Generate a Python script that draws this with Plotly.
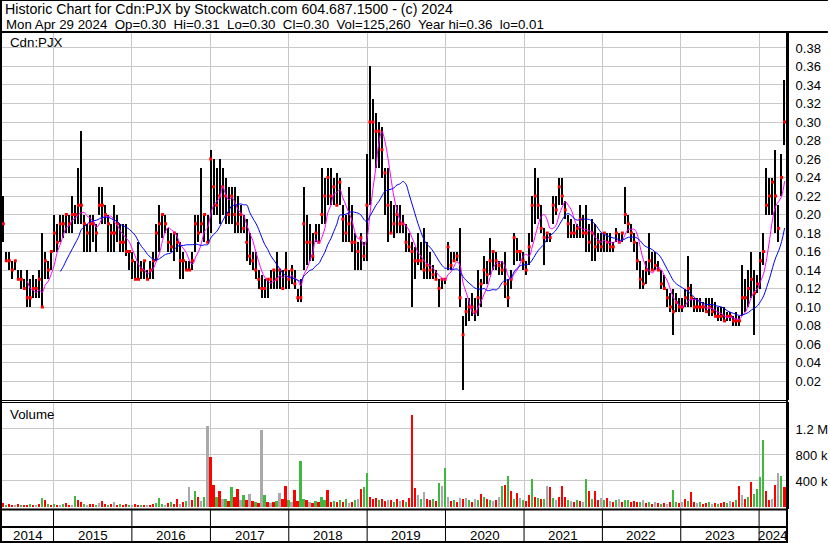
import pandas as pd
import plotly.graph_objects as go

# ---------------- data (prices in cents, volume in thousands) ----------------
bar_start = "2014-05-12"
n_bars = 261

high_c = [22,16,16,15,15,14,14,13,14,13,
          13.5,13,14,18,16,15,16,20,19,20,
          20,20,20,22,21,25,29,20,19,20,
          20,19,23,23,21,20,19,21,20,19,
          19,19,16,16,15,17,15,15,14,15,
          16,19,21,20,20,18.5,18,18,18,17,
          16,15,15,16,20,20,25,20,20,27,
          26,25,26,25,24,23,23,23,22,21,
          20,19.5,18,16,16,14,13.5,13,13,14,
          14,16,14,14,16,14,14.5,14,12,13,
          23,20,19,18,19,19,25,24,25,25,
          24,24.5,24,21,20,23,21,18,17,18,
          17,26.5,36,32.5,31,30,29.5,25,25,21.5,
          21,21,21,20,19,18,17,16.5,18,17,
          18.5,17,16,14.5,14,13,13,13,17,16,
          16,16,18.5,9,11,11,11.5,11,14,13,
          15.5,15,17.5,16,16,15,15,16,13,14,
          18,17.5,16,16,15,18,22,25,24,21,
          18.5,18,18,22,22,24,24,21.5,20,19.5,
          19,19,21,20,21,19,19.5,19,18,18,
          18,18,18,17,18.5,18,18,23,20,19,
          18,17,15,14,15,18,16,16,15,14,
          13.5,12,11.5,12,11.5,11,11,12,15.5,12.5,
          11,11,11,10.5,11,11,11,10.5,10,10,
          10,9.5,9.5,9,9.5,9,14.5,13,14,16,
          14,13.5,16,18,25,24,24,27,21,26.5,
          34.5]

low_c = [17,15,14,13,14,13,12,12,10,10,
         11,11,11,10,13,13,14,16,16,17,
         17.5,18,18,18,19,19,19,16,16,16,
         17,16,20,19,19,16,16,16,17,16,
         16,15.5,14,13,13,13,13,13,13,13,
         13,15,16,17.5,18,16,16,15,16,13,
         13,14,14,14,16,17,18,17,17,18,
         20,20,19,20,19,19,19,18,18,18,
         18,15,14.5,14,13,12,11,11,11,12,
         12,12,12,12,12,12,12.5,12,10.5,10.5,
         14,14.5,15,15,17,17,19,19,21,21,
         21,21,21,17,17,17,16,14,14,14,
         15,15,21,26,25,25,24,20,17,18,
         17.5,18,18,18,16,16,10,13,14.5,14,
         13,13,13,13,13,10,12,12.5,14,14,
         15,15,10,1,8,8.5,9,8.5,9,10,
         12.5,12.5,13.5,14,14,13.5,13.5,11,10,12,
         14.5,15,15,14,13.5,14.5,17,19,19.5,18,
         14.5,17,17,19,20,21,21,19.5,17.5,17.5,
         17.5,17.5,17.5,17.5,16,16,15,15,16,16,
         16,16,16,16,17,17,17,19,18,17,
         16,14,12,12,12.5,13.5,14,14,14,12,
         12,10,9.5,7,9.5,9.5,9.5,10,10,10,
         9.5,9.5,9.5,9.5,9.5,9,9,9,8.5,8.5,
         8.5,8.5,8.5,8,8,8,9,9.5,10,11,
         7,11.5,12,14.5,20,20,20,18,17,22,
         27.5]

close_c = [19,15,15,14,15,13,13,12,11,11,
           12,12,13,10,15,14,16,18,17,19,
           19,20,19,20,20,21,21,19,18,19,
           19,18,21,21,20,19,18,18,19,17,
           17,16,16,15,13,13,14,15,13,14,
           15,18,19,20,19,17,16.5,18,17,15,
           15,14,14,15,19,18,19,20,17,26,
           23,21,22,23,22,20,22,20,19,20,
           18.5,17,15.5,15,14,13,12,12,13,13,
           14,13,14,12,14,13,14,12.5,11,11,
           19,17,17,15.5,18,17,20,22,24,22,
           23,21,23.5,19.5,18,19,17,17,16,17.5,
           15.5,21,30,30,29,29,27,24.5,21,18,
           19,20,19,19,17,16.5,16,15,15,15,
           14,14.5,14,13.5,13,12,13,13,16.5,14.5,
           15,15.5,11,7,9.5,10,10,9.5,11,12.5,
           14,13.5,15,16,15,14.5,14,12.5,11,13,
           17.5,16,16,15,14,16.5,21,22,21,18.5,
           17.5,18,17.5,21,20.5,23,22,20.5,19,18,
           18,18.5,19.5,18,18,17,18,16.5,17,16.5,
           18,17,16.5,16.5,18,17,18,20,19,18,
           17,15,13,12.5,14,15,14,14.5,14,12.5,
           12,11,10,9.5,10.5,10,10,11,12,11,
           10,10,10,10,9.5,10,9.5,9,9,9,
           8.5,9,9,8.5,8.5,8.5,11,11,12,13,
           11.5,12.5,15,16,21,22,23.5,22,18.5,24,
           30]

volume_k = [60,30,40,20,30,40,20,30,25,40,
            30,20,40,140,100,40,30,50,30,20,
            40,60,30,20,165,100,80,40,30,50,
            40,30,60,90,40,30,50,70,30,40,
            30,50,20,30,40,20,30,20,25,30,
            40,60,140,50,30,60,80,40,120,50,
            70,90,300,110,240,150,90,150,1240,770,
            340,160,240,120,130,90,300,160,270,100,
            180,110,200,90,80,60,1180,180,70,60,
            80,90,215,120,330,100,80,260,90,710,
            130,110,80,60,90,70,150,100,260,80,
            90,70,100,80,130,60,80,100,130,280,
            310,530,160,130,140,100,120,90,110,100,
            80,130,90,110,80,140,1410,290,180,120,
            225,130,100,120,90,370,320,600,150,90,
            110,80,140,120,140,100,80,120,100,200,
            160,120,100,90,110,150,320,340,470,250,
            120,220,140,110,90,180,430,160,140,120,
            130,320,300,140,110,150,330,150,100,90,
            80,110,90,70,430,250,130,240,100,140,
            110,140,90,80,100,120,70,100,110,80,
            90,70,80,110,60,80,50,70,60,50,
            60,50,70,260,80,60,70,120,90,225,
            70,60,80,50,60,70,40,60,50,60,
            70,60,90,80,110,330,180,120,160,380,
            200,280,460,1030,250,110,120,340,530,470,
            300]

# volume bar direction: g = up day, r = down day, n = unchanged
vol_dir = list("".join([
    "rgrrnrgrrg", "rnrgrgrgrn", "grrngrrgnr", "rgnrrgrnrg", "rrgnrrgrnr",
    "rgggnrgrrn", "rgnrgrngnr", "rgrngrgrrn", "grnrgrngrn", "rgnrrgnrrg",
    "grnrgrggrr", "grgrgnrgnr", "ggrrrgrrnr", "grnrgrrrng", "nrrgrgngnr",
    "grnrngrngr", "grgnrngrgr", "grngrrgrgr", "gnrgnrrrgn", "rgrngrgrrn",
    "grnrgnrggr", "rrgnrgrnrg", "rnrggrnrgr", "rngrrgnrgr", "rgnrgrnrgr",
    "ggggrrnrng", "r"]))

price_ticks = [0.02, 0.04, 0.06, 0.08, 0.10, 0.12, 0.14, 0.16, 0.18, 0.20,
               0.22, 0.24, 0.26, 0.28, 0.30, 0.32, 0.34, 0.36, 0.38]
vol_tickvals = [400000, 800000, 1200000]
vol_ticktext = ["400 k", "800 k", "1.2 M"]
years = ["2014", "2015", "2016", "2017", "2018", "2019", "2020", "2021", "2022", "2023", "2024"]

header1 = "Historic Chart for Cdn:PJX by Stockwatch.com 604.687.1500 - (c) 2024"
header2 = ("Mon Apr 29 2024\u00a0 Op=0.30\u00a0 Hi=0.31\u00a0 Lo=0.30\u00a0 "
           "Cl=0.30\u00a0 Vol=125,260\u00a0 Year hi=0.36\u00a0 lo=0.01")

# ---------------- derived ----------------
dates = pd.date_range(bar_start, periods=n_bars, freq="14D")
df = pd.DataFrame({
    "date": dates,
    "high": [v / 100 for v in high_c],
    "low": [v / 100 for v in low_c],
    "close": [v / 100 for v in close_c],
    "vol": [v * 1000 for v in volume_k],
    "dir": vol_dir,
})
ma_fast = df["close"].rolling(5).mean()
ma_slow = df["close"].rolling(13).mean()
ma_fast[df.index < 8] = None
ma_slow[df.index < 19] = None

color_map = {"g": "#3fb83f", "r": "#ff0000", "n": "#a9a9a9"}
vol_colors = [color_map[d] for d in df["dir"]]

FONT = "Liberation Sans, Arial, sans-serif"
GRID = "#c8c8c8"
DAY_MS = 86400000
W, H = 830, 543
ML, MR, MT, MB = 2, 41, 33, 34
PW, PH = W - ML - MR, H - MT - MB


def py(pix):  # pixel y -> paper y
    return (H - MB - pix) / PH


def px(pix):  # pixel x -> paper x
    return (pix - ML) / PW


fig = go.Figure()
fig.add_trace(go.Bar(x=df["date"], y=df["high"] - df["low"], base=df["low"],
                     marker=dict(color="black", line=dict(width=0)),
                     width=6 * DAY_MS, xaxis="x", yaxis="y", hoverinfo="skip"))
fig.add_trace(go.Scatter(x=df["date"], y=df["close"], mode="markers",
                         marker=dict(symbol="square", size=3, color="#ff0000"),
                         xaxis="x", yaxis="y", hoverinfo="skip"))
fig.add_trace(go.Scatter(x=df["date"], y=ma_fast, mode="lines",
                         line=dict(color="#ff00ff", width=1, shape="spline"),
                         xaxis="x", yaxis="y", hoverinfo="skip"))
fig.add_trace(go.Scatter(x=df["date"], y=ma_slow, mode="lines",
                         line=dict(color="#0000ff", width=1, shape="spline"),
                         xaxis="x", yaxis="y", hoverinfo="skip"))
fig.add_trace(go.Bar(x=df["date"], y=df["vol"], marker=dict(color=vol_colors, line=dict(width=0)),
                     width=8 * DAY_MS, xaxis="x2", yaxis="y2", hoverinfo="skip"))

xcommon = dict(type="date", range=["2014-05-06", "2024-05-10"], showgrid=True, gridcolor=GRID,
               gridwidth=1, dtick="M12", tick0="2015-01-01", showticklabels=False, ticks="",
               zeroline=False, showline=False)

fig.update_layout(
    width=W, height=H, margin=dict(l=ML, r=MR, t=MT, b=MB, pad=0),
    paper_bgcolor="white", plot_bgcolor="white", showlegend=False, hovermode=False,
    font=dict(family=FONT, size=13, color="black"),
    xaxis=dict(domain=[0, 1], anchor="y", **xcommon),
    xaxis2=dict(domain=[0, 1], anchor="y2", matches="x", **xcommon),
    yaxis=dict(domain=[py(400), 1], range=[-0.0005, 0.3962], side="right",
               tickvals=price_ticks, ticktext=[f"{v:.2f}" for v in price_ticks],
               showgrid=True, gridcolor=GRID, zeroline=False, showline=True,
               linecolor="black", linewidth=2, ticks="", ticklabelstandoff=4,
               tickfont=dict(size=13)),
    yaxis2=dict(domain=[0, py(402)], range=[-31000, 1615000], side="right",
                tickvals=vol_tickvals, ticktext=vol_ticktext,
                showgrid=True, gridcolor=GRID, zeroline=False, showline=True,
                linecolor="black", linewidth=2, ticks="", ticklabelstandoff=4,
                tickfont=dict(size=13)),
    bargap=0,
)

shapes = []
line_k = dict(color="black", width=2)
# frame / separators
shapes.append(dict(type="line", xref="paper", yref="paper", x0=px(0), x1=px(830), y0=py(0.5), y1=py(0.5), line=dict(color="black", width=1)))
shapes.append(dict(type="line", xref="paper", yref="paper", x0=px(0), x1=px(830), y0=py(32), y1=py(32), line=line_k))
shapes.append(dict(type="line", xref="paper", yref="paper", x0=px(1), x1=px(1), y0=py(543), y1=py(0), line=line_k))
shapes.append(dict(type="line", xref="paper", yref="paper", x0=px(0), x1=px(789), y0=py(400.5), y1=py(400.5), line=dict(color="black", width=1)))
shapes.append(dict(type="line", xref="paper", yref="paper", x0=px(0), x1=px(789), y0=py(402.5), y1=py(402.5), line=dict(color="black", width=1)))
shapes.append(dict(type="line", xref="paper", yref="paper", x0=px(0), x1=px(789), y0=py(509.5), y1=py(509.5), line=line_k))
shapes.append(dict(type="line", xref="paper", yref="paper", x0=px(0), x1=px(789), y0=py(527), y1=py(527), line=line_k))
shapes.append(dict(type="line", xref="paper", yref="paper", x0=px(0), x1=px(789), y0=py(542), y1=py(542), line=line_k))
shapes.append(dict(type="line", xref="paper", yref="paper", x0=1, x1=1, y0=py(543), y1=1, line=line_k))
for y in years[1:]:
    shapes.append(dict(type="line", xref="x", yref="paper", x0=f"{y}-01-01", x1=f"{y}-01-01",
                       y0=py(543), y1=py(509), line=dict(color="black", width=1)))
fig.update_layout(shapes=shapes)

ann = []
ann.append(dict(text=header1, xref="paper", yref="paper", x=px(3), y=py(9), xanchor="left",
                yanchor="middle", showarrow=False, font=dict(size=14.2)))
ann.append(dict(text=header2, xref="paper", yref="paper", x=px(4), y=py(24), xanchor="left",
                yanchor="middle", showarrow=False, font=dict(size=13.3)))
ann.append(dict(text="Cdn:PJX", xref="paper", yref="paper", x=px(8), y=py(42), xanchor="left",
                yanchor="middle", showarrow=False, font=dict(size=13.3)))
ann.append(dict(text="Volume", xref="paper", yref="paper", x=px(8), y=py(414), xanchor="left",
                yanchor="middle", showarrow=False, font=dict(size=13.3)))
for y in years:
    if y == "2014":
        xd = "2014-09-03"
    elif y == "2024":
        xd = "2024-03-06"
    else:
        xd = f"{y}-07-02"
    ann.append(dict(text=y, xref="x", yref="paper", x=xd, y=py(535), xanchor="center",
                    yanchor="middle", showarrow=False, font=dict(size=13.3)))
fig.update_layout(annotations=ann)

fig.write_html("out.html", config={"displayModeBar": False},
               post_script="document.body.style.margin='0px';document.body.style.overflow='hidden';")
